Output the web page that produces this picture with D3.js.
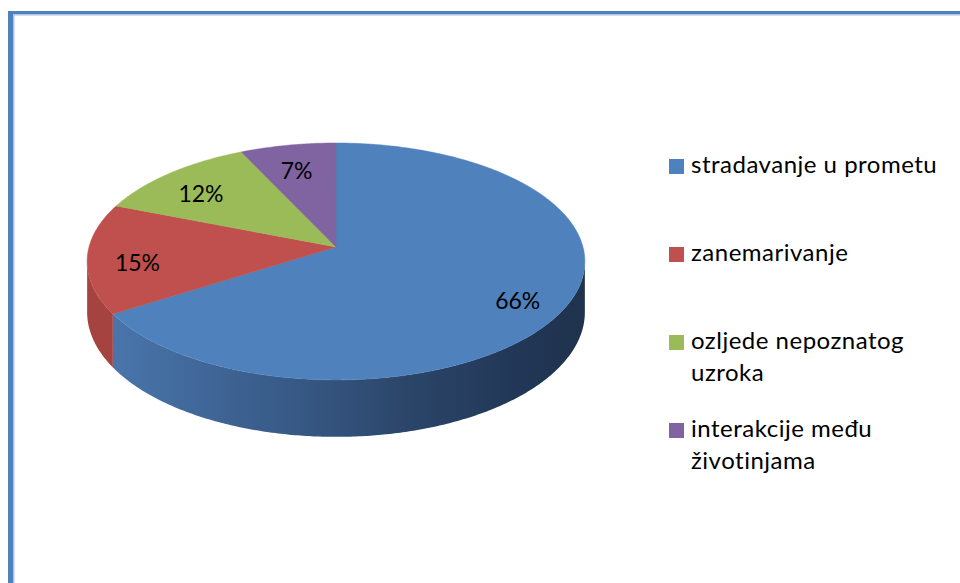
<!DOCTYPE html>
<html>
<head>
<meta charset="utf-8">
<script src="https://cdn.jsdelivr.net/npm/d3@7"></script>
<style>
  body { margin: 0; background: #fff; }
  text { font-family: Lato, "Open Sans", sans-serif; fill: #000; }
</style>
</head>
<body>
<div id="chart"></div>
<script>
// data
var categories = ["stradavanje u prometu", "zanemarivanje", "ozljede nepoznatog uzroka", "interakcije među životinjama"];
var legendLines = [["stradavanje u prometu"], ["zanemarivanje"], ["ozljede nepoznatog", "uzroka"], ["interakcije među", "životinjama"]];
var values = [66, 15, 12, 7];
var colors = ["#4f81bd", "#c0504d", "#9bbb59", "#8064a2"];
var sideColors = ["url(#blueSide)", "#a4433f", "#809a49", "#6a5287"];

var width = 960, height = 583;

// pie geometry (3d with a bit of perspective)
var cx = 336, cy = 247, R = 247, Ry = 116.7, k = 0.122, T = 50;

function proj(a, r, depth) {
    var u = Math.sin(a) * r, v = -Math.cos(a) * r;
    var s = 1 / (1 - k * v);
    return [cx + R * u * s, cy + Ry * v * s + depth * T * s];
}

function arcPoints(a0, a1, depth) {
    var n = Math.max(2, Math.ceil(Math.abs(a1 - a0) / 0.01));
    var pts = [];
    for (var i = 0; i <= n; i++) pts.push(proj(a0 + (a1 - a0) * i / n, 1, depth));
    return pts;
}

var svg = d3.select("#chart")
    .append("svg")
    .attr("width", width)
    .attr("height", height);

var defs = svg.append("defs");
var grad = defs.append("linearGradient")
    .attr("id", "blueSide")
    .attr("gradientUnits", "userSpaceOnUse")
    .attr("x1", 88).attr("x2", 585).attr("y1", 0).attr("y2", 0);
[[0, "#4b79b0"], [0.4, "#385a87"], [0.65, "#2b4568"], [0.85, "#223858"], [1, "#1f324d"]].forEach(function (s) {
    grad.append("stop").attr("offset", s[0]).attr("stop-color", s[1]);
});

// frame
svg.append("rect").attr("x", 8).attr("y", 11).attr("width", 5).attr("height", height).attr("fill", "#4f81bd");
svg.append("rect").attr("x", 8).attr("y", 11).attr("width", width).attr("height", 3).attr("fill", "#4f81bd");
svg.append("rect").attr("x", 13).attr("y", 14).attr("width", 1.5).attr("height", height).attr("fill", "#aac4e6");
svg.append("rect").attr("x", 13).attr("y", 14).attr("width", width).attr("height", 1.5).attr("fill", "#aac4e6");

var pie = d3.pie().sort(null).value(function (d) { return d; });
var arcs = pie(values);

// silhouette angles of the front wall
var aMin = 0, aMax = 0, xMin = Infinity, xMax = -Infinity;
for (var a = 0; a < 2 * Math.PI; a += 0.002) {
    var p = proj(a, 1, 0);
    if (p[0] > xMax) { xMax = p[0]; aMax = a; }
    if (p[0] < xMin) { xMin = p[0]; aMin = a; }
}

var line = d3.line();

// front walls
arcs.forEach(function (d, i) {
    var a0 = Math.max(d.startAngle, aMax), a1 = Math.min(d.endAngle, aMin);
    if (a1 <= a0) return;
    var pts = arcPoints(a0, a1, 0).concat(arcPoints(a1, a0, 1));
    svg.append("path")
        .attr("d", line(pts) + "Z")
        .attr("fill", sideColors[i]);
});

// top faces
arcs.forEach(function (d, i) {
    var pts = [proj(0, 0, 0)].concat(arcPoints(d.startAngle, d.endAngle, 0));
    svg.append("path")
        .attr("d", line(pts) + "Z")
        .attr("fill", colors[i])
        .attr("stroke", colors[i])
        .attr("stroke-width", 0.5);
});

// percent labels
svg.selectAll("pctLabels")
    .data(arcs)
    .enter()
    .append("text")
    .attr("text-anchor", "middle")
    .attr("font-size", 23)
    .attr("x", function (d) { return proj((d.startAngle + d.endAngle) / 2, 0.8, 0)[0]; })
    .attr("y", function (d) { return proj((d.startAngle + d.endAngle) / 2, 0.8, 0)[1] + 15; })
    .text(function (d) { return Math.round(d.value) + "%"; });

// legend
var legend = svg.selectAll("legendRows")
    .data(categories)
    .enter()
    .append("g")
    .attr("transform", function (d, i) { return "translate(669," + (159 + i * 88) + ")"; });

legend.append("rect")
    .attr("width", 15)
    .attr("height", 15)
    .attr("fill", function (d, i) { return colors[i]; });

legend.append("text")
    .attr("x", 22)
    .attr("y", 14)
    .attr("font-size", 24)
    .attr("letter-spacing", 0.5)
    .selectAll("tspan")
    .data(function (d, i) { return legendLines[i]; })
    .enter()
    .append("tspan")
    .attr("x", 22)
    .attr("dy", function (d, j) { return j === 0 ? 0 : 32; })
    .text(function (d) { return d; });
</script>
</body>
</html>
